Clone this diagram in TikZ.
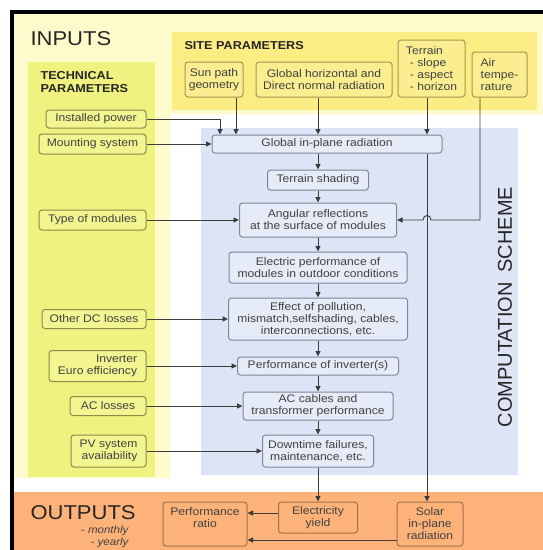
\documentclass[tikz,border=0pt]{standalone}
\usepackage{fontspec}
\setmainfont{Liberation Sans}[FakeStretch=1.1]
\newfontfamily\rotfont{Liberation Sans}
\usetikzlibrary{arrows.meta,calc}
\definecolor{paleY}{HTML}{FDFBCB}
\definecolor{techY}{HTML}{EFF27F}
\definecolor{siteY}{HTML}{FCEC84}
\definecolor{compB}{HTML}{DCE4F5}
\definecolor{outO}{HTML}{FDB27A}
\definecolor{tFill}{HTML}{F3F590}
\definecolor{tLine}{HTML}{8A8A4A}
\definecolor{sFill}{HTML}{FBEE90}
\definecolor{sLine}{HTML}{A89650}
\definecolor{cFill}{HTML}{E6EBF8}
\definecolor{cLine}{HTML}{7E8699}
\definecolor{oFill}{HTML}{FDB27A}
\definecolor{oLine}{HTML}{A0704A}
\definecolor{txt}{HTML}{404040}
\definecolor{arrc}{HTML}{3C3C3C}
\tikzset{
  basebox/.style={draw, rounded corners=3pt, line width=1pt, inner sep=0pt, text=txt,
    font=\fontsize{11}{12}\selectfont},
  tbox/.style={basebox, fill=tFill, draw=tLine, align=right},
  sbox/.style={basebox, fill=sFill, draw=sLine, align=center},
  cbox/.style={basebox, fill=cFill, draw=cLine, align=center},
  obox/.style={basebox, fill=oFill, draw=oLine, align=center},
  arr/.style={draw=arrc, line width=0.9pt, -{Triangle[length=5.5pt,width=5pt]}},
  big/.style={font=\fontsize{20}{24}\selectfont, text=black!85},
  head/.style={font=\bfseries\fontsize{11.5}{13}\selectfont, text=black!85, align=left},
}
\begin{document}
\begin{tikzpicture}[x=1pt,y=-1pt]
\useasboundingbox (0,0) rectangle (543,550);
% panels
\fill[paleY] (14,14) -- (543,14) -- (543,114) -- (170,114) -- (170,478) -- (14,478) -- cycle;
\fill[techY] (28,62) rectangle (155,477);
\fill[siteY] (172,32) rectangle (537,110);
\fill[compB] (201,128) rectangle (518,475);
\fill[outO] (14,492) rectangle (543,550);
\fill[black] (10,10) rectangle (543,14);
\fill[black] (10,10) rectangle (14,550);
% titles
\node[big, anchor=west] (inputs) at (27,39) {INPUTS};
\node[head, anchor=west] (sitep) at (181,46) {SITE PARAMETERS};
\node[head, anchor=west] (techp) at (37,82) {TECHNICAL\\PARAMETERS};
\node[big, anchor=west] (outputs) at (27,513) {OUTPUTS};
\node[font=\itshape\fontsize{10.5}{12}\selectfont, text=txt, align=right, anchor=east] (period) at (132,537) {- monthly\\- yearly};
\node[font=\rotfont\fontsize{20}{24}\selectfont, text=black!85, rotate=90] (cs) at (505,307) {COMPUTATION\hspace{0.5em}SCHEME};
% site boxes
\node[sbox, minimum width=58pt, minimum height=35pt] (sun) at (214,79.5) {Sun path\\geometry};
\node[sbox, minimum width=136pt, minimum height=35pt] (ghi) at (324,79.5) {Global horizontal and\\Direct normal radiation};
\node[sbox, minimum width=67pt, minimum height=57pt, align=left] (ter) at (431.5,68.5) {Terrain\\\hspace{4pt}- slope\\\hspace{4pt}- aspect\\\hspace{4pt}- horizon};
\node[sbox, minimum width=55pt, minimum height=45pt, align=left] (air) at (499.5,74.5) {Air\\tempe-\\rature\hspace{6pt}};
% technical boxes
\node[tbox, minimum width=100pt, minimum height=18pt] (inst) at (96,119) {Installed power};
\node[tbox, minimum width=107pt, minimum height=20pt] (mount) at (92.5,144) {Mounting system};
\node[tbox, minimum width=107pt, minimum height=20pt] (type) at (92.5,220) {Type of modules};
\node[tbox, minimum width=104pt, minimum height=19pt] (odc) at (94,319) {Other DC losses};
\node[tbox, minimum width=97pt, minimum height=31pt] (inv) at (97.5,366) {Inverter\\Euro efficiency};
\node[tbox, minimum width=76pt, minimum height=19pt] (acl) at (108,406) {AC losses};
\node[tbox, minimum width=75pt, minimum height=32pt] (pva) at (108.5,451) {PV system\\availability};
% computation boxes
\node[cbox, minimum width=230pt, minimum height=18pt] (glob) at (327,144) {Global in-plane radiation};
\node[cbox, minimum width=101pt, minimum height=20pt] (tsh) at (318,180) {Terrain shading};
\node[cbox, minimum width=157pt, minimum height=34pt] (ang) at (318,220) {Angular reflections\\at the surface of modules};
\node[cbox, minimum width=178pt, minimum height=31pt] (elec) at (318,267.5) {Electric performance of\\modules in outdoor conditions};
\node[cbox, minimum width=179pt, minimum height=42pt] (eff) at (318,319) {Effect of pollution,\\mismatch,selfshading, cables,\\interconnections, etc.};
\node[cbox, minimum width=161pt, minimum height=18pt] (pinv) at (318,366) {Performance of inverter(s)};
\node[cbox, minimum width=150pt, minimum height=28pt] (acc) at (318,406) {AC cables and\\transformer performance};
\node[cbox, minimum width=111pt, minimum height=32pt] (down) at (318,451) {Downtime failures,\\maintenance, etc.};
% output boxes
\node[obox, minimum width=84pt, minimum height=44pt] (pr) at (205,524) {Performance\\ratio\\\mbox{}};
\node[obox, minimum width=79pt, minimum height=31pt] (ey) at (318,517.5) {Electricity\\yield};
\node[obox, minimum width=66pt, minimum height=44pt] (sol) at (430,524) {Solar\\in-plane\\radiation};
% helper coordinates
\coordinate (xa) at (220,0);
\coordinate (xb) at (236,0);
\coordinate (xc) at (318,0);
\coordinate (xd) at (427,0);
\coordinate (xe) at (480,0);
\coordinate (hopR) at (431,220);
\coordinate (hopL) at (423,220);
\coordinate (eyw) at ([yshift=4.5pt]ey.west);
\coordinate (solw) at ([yshift=-16pt]sol.west);
% connectors into global in-plane radiation
\draw[arr] (inst.east) -| (xa |- glob.north);
\draw[arr] (sun.south -| xb) -- (xb |- glob.north);
\draw[arr] (ghi.south -| xc) -- (xc |- glob.north);
\draw[arr] (ter.south -| xd) -- (xd |- glob.north);
\draw[arr] (mount.east) -- (mount.east -| glob.west);
% air temperature with hop
\draw[arr] (air.south -| xe) |- (hopR) .. controls +(0,-6) and +(0,-6) .. (hopL) -- (ang.east);
% spine
\draw[arr] (glob.south -| tsh.north) -- (tsh.north);
\draw[arr] (tsh.south) -- (ang.north);
\draw[arr] (ang.south) -- (elec.north);
\draw[arr] (elec.south) -- (eff.north);
\draw[arr] (eff.south) -- (pinv.north);
\draw[arr] (pinv.south) -- (acc.north);
\draw[arr] (acc.south) -- (down.north);
\draw[arr] (down.south) -- (ey.north);
\draw[arr] (glob.south -| xd) -- (xd |- sol.north);
% technical inputs
\draw[arr] (type.east) -- (type.east -| ang.west);
\draw[arr] (odc.east) -- (odc.east -| eff.west);
\draw[arr] (inv.east) -- (inv.east -| pinv.west);
\draw[arr] (acl.east) -- (acl.east -| acc.west);
\draw[arr] (pva.east) -- (pva.east -| down.west);
% outputs
\draw[arr] (eyw) -- (eyw -| pr.east);
\draw[arr] (solw) -- (solw -| pr.east);
\end{tikzpicture}
\end{document}
